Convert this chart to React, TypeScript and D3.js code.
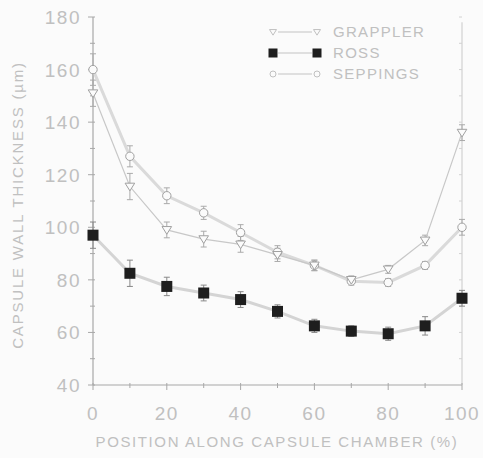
import * as d3 from 'd3';
import { useEffect, useRef } from 'react';

// position along the chamber (%)
const positions = [0, 10, 20, 30, 40, 50, 60, 70, 80, 90, 100];
// wall thickness (µm) per capsule
const grappler = [151, 115.5, 99, 95.5, 93.5, 89.5, 85.5, 80, 84, 95, 136];
const grapplerErr = [5, 5, 3, 3, 3, 2.5, 2, 1.5, 1.5, 2, 3];
const ross = [97, 82.5, 77.5, 75, 72.5, 68, 62.5, 60.5, 59.5, 62.5, 73];
const rossErr = [5, 5, 3.5, 3, 3, 2.5, 2.5, 2, 2.5, 3.5, 3];
const seppings = [160, 127, 112, 105.5, 98, 90.5, 85.5, 79.5, 79, 85.5, 100];
const seppingsErr = [6, 4, 3, 2.5, 3, 2.5, 2, 1.5, 1.5, 1.5, 3];
const seriesNames = ['GRAPPLER', 'ROSS', 'SEPPINGS'];
const yTicks = [40, 60, 80, 100, 120, 140, 160, 180];
const xTicks = [0, 20, 40, 60, 80, 100];

function App() {
    const ref = useRef<SVGSVGElement | null>(null);

    useEffect(() => {
        const svg = d3.select(ref.current);
        svg.selectAll('*').remove();
        const width = 483, height = 458;
        const font = 'Liberation Sans, Arial, sans-serif';
        const txt = '#c0c0c0';
        const axisCol = '#a8a8a8';

        svg.append('rect').attr('width', width).attr('height', height).attr('fill', '#fbfbfb');

        const x = d3.scaleLinear().domain([0, 100]).range([93, 462]);
        const y = d3.scaleLinear().domain([40, 180]).range([385, 17]);

        // axes
        const g = svg.append('g');
        g.append('line').attr('x1', x(0)).attr('x2', x(0)).attr('y1', y(180)).attr('y2', y(40))
            .attr('stroke', axisCol).attr('stroke-width', 1.2);
        g.append('line').attr('x1', x(0)).attr('x2', x(100)).attr('y1', y(40)).attr('y2', y(40))
            .attr('stroke', axisCol).attr('stroke-width', 1.2);
        g.append('line').attr('x1', x(100)).attr('x2', x(100)).attr('y1', y(178)).attr('y2', y(40))
            .attr('stroke', '#d2d2d2').attr('stroke-width', 1.2);

        d3.range(40, 181, 10).forEach(v => {
            const major = v % 20 === 0;
            g.append('line').attr('x1', x(0) - (major ? 5 : 3)).attr('x2', x(0) + 2)
                .attr('y1', y(v)).attr('y2', y(v)).attr('stroke', axisCol);
            g.append('line').attr('x1', x(100) - 3).attr('x2', x(100)).attr('y1', y(v)).attr('y2', y(v))
                .attr('stroke', '#d2d2d2');
        });
        d3.range(0, 101, 10).forEach(v => {
            const major = v % 20 === 0;
            g.append('line').attr('x1', x(v)).attr('x2', x(v))
                .attr('y1', y(40) - 2).attr('y2', y(40) + (major ? 5 : 3)).attr('stroke', axisCol);
        });

        g.selectAll('.yl').data(yTicks).join('text')
            .attr('x', x(0) - 12).attr('y', d => y(d) + 7)
            .attr('text-anchor', 'end').attr('font-family', font).attr('font-size', 19)
            .attr('letter-spacing', 1.5).attr('fill', txt).text(d => d);
        g.selectAll('.xl').data(xTicks).join('text')
            .attr('x', d => x(d)).attr('y', 420)
            .attr('text-anchor', 'middle').attr('font-family', font).attr('font-size', 19)
            .attr('letter-spacing', 1.5).attr('fill', txt).text(d => d);

        svg.append('text').attr('x', 277).attr('y', 447).attr('text-anchor', 'middle')
            .attr('font-family', font).attr('font-size', 15).attr('fill', txt)
            .attr('letter-spacing', 1.6).text('POSITION ALONG CAPSULE CHAMBER (%)');
        svg.append('text').attr('transform', 'translate(23,205) rotate(-90)').attr('text-anchor', 'middle')
            .attr('font-family', font).attr('font-size', 15).attr('fill', txt)
            .attr('letter-spacing', 1.8).text('CAPSULE WALL THICKNESS (µm)');

        const line = d3.line<number>().x((_, i) => x(positions[i])).y(d => y(d));

        const drawErr = (vals: number[], errs: number[], col: string) => {
            vals.forEach((v, i) => {
                const cx = x(positions[i]);
                g.append('line').attr('x1', cx).attr('x2', cx).attr('y1', y(v + errs[i])).attr('y2', y(v - errs[i]))
                    .attr('stroke', col).attr('stroke-width', 1);
                [v + errs[i], v - errs[i]].forEach(e => {
                    g.append('line').attr('x1', cx - 3).attr('x2', cx + 3).attr('y1', y(e)).attr('y2', y(e))
                        .attr('stroke', col).attr('stroke-width', 1);
                });
            });
        };

        // lines
        svg.append('path').datum(seppings).attr('d', line).attr('fill', 'none')
            .attr('stroke', '#dadada').attr('stroke-width', 3);
        svg.append('path').datum(grappler).attr('d', line).attr('fill', 'none')
            .attr('stroke', '#c8c8c8').attr('stroke-width', 1.2);
        svg.append('path').datum(ross).attr('d', line).attr('fill', 'none')
            .attr('stroke', '#d4d4d4').attr('stroke-width', 3);

        drawErr(seppings, seppingsErr, '#aaa');
        drawErr(grappler, grapplerErr, '#aaa');
        drawErr(ross, rossErr, '#888');

        const tri = (cx: number, cy: number, s: number) =>
            `M${cx - s},${cy - s * 0.7} L${cx + s},${cy - s * 0.7} L${cx},${cy + s * 0.9} Z`;

        // markers
        svg.selectAll('.sep').data(seppings).join('circle')
            .attr('cx', (_, i) => x(positions[i])).attr('cy', d => y(d)).attr('r', 4.2)
            .attr('fill', '#fbfbfb').attr('stroke', '#a0a0a0').attr('stroke-width', 1);
        svg.selectAll('.gra').data(grappler).join('path')
            .attr('d', (d, i) => tri(x(positions[i]), y(d), 4.8))
            .attr('fill', '#fbfbfb').attr('stroke', '#a0a0a0').attr('stroke-width', 1);
        svg.selectAll('.ros').data(ross).join('rect')
            .attr('x', (_, i) => x(positions[i]) - 5.5).attr('y', d => y(d) - 5.5)
            .attr('width', 11).attr('height', 11).attr('fill', '#1e1e1e');

        // legend
        const leg = svg.append('g');
        seriesNames.forEach((name, i) => {
            const ly = 32 + i * 21;
            leg.append('line').attr('x1', 278).attr('x2', 312).attr('y1', ly).attr('y2', ly)
                .attr('stroke', '#c4c4c4').attr('stroke-width', 1.2);
            [273, 317].forEach(lx => {
                if (i === 0) leg.append('path').attr('d', tri(lx, ly, 3.5)).attr('fill', '#fbfbfb').attr('stroke', '#c0c0c0');
                if (i === 1) leg.append('rect').attr('x', lx - 4.5).attr('y', ly - 4.5).attr('width', 9).attr('height', 9).attr('fill', '#1e1e1e');
                if (i === 2) leg.append('circle').attr('cx', lx).attr('cy', ly).attr('r', 3).attr('fill', '#fbfbfb').attr('stroke', '#c0c0c0');
            });
            leg.append('text').attr('x', 333).attr('y', ly + 5).attr('font-family', font).attr('font-size', 15)
                .attr('fill', txt).attr('letter-spacing', 1.3).text(name);
        });
    }, []);

    return (
        <svg ref={ref} width={483} height={458} style={{ display: 'block', position: 'absolute', left: 0, top: 0 }} />
    );
}

export default App;
